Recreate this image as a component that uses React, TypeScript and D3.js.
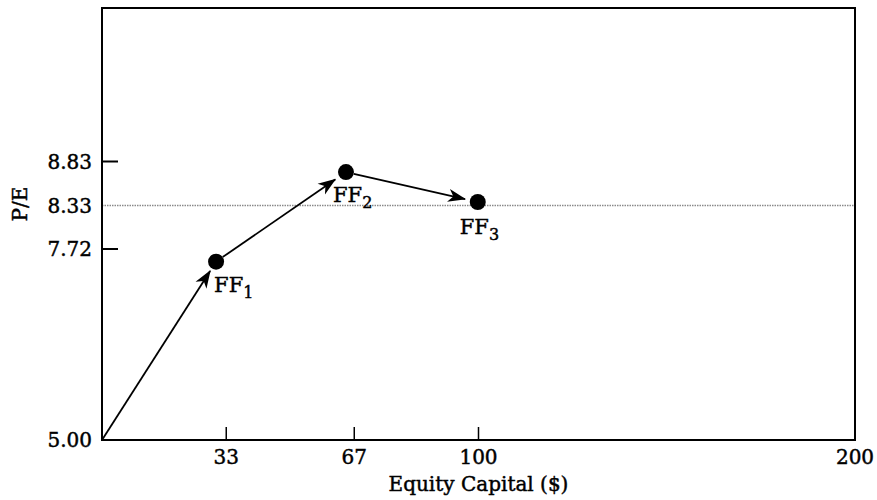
import React from "react";
import * as d3 from "d3";

const xTickValues = [33, 67, 100, 200];
const yTickValues = [5.0, 7.72, 8.33, 8.83];
const yTickLabels = ["5.00", "7.72", "8.33", "8.83"];
const yTickMarked = [false, true, false, true];
const pointNames = ["FF", "FF", "FF"];
const pointSubs = ["1", "2", "3"];
const pointEquity = [30.3, 64.8, 99.8];
const pointPE = [7.54, 8.71, 8.37];
const origin = { equity: 0, pe: 5.0 };
const referencePE = 8.33;

const W = 877;
const H = 500;
const left = 102;
const right = 855;
const top = 8;
const bottom = 440;
const FONT = "'DejaVu Serif', serif";
const textStroke = { stroke: "#000", strokeWidth: 0.45 };

export default function App() {
  const x = d3.scaleLinear().domain([0, 200]).range([left, right]);
  const y = d3
    .scaleLinear()
    .domain(yTickValues)
    .range([bottom, 249, 205.5, 161.5]);

  const pts = pointEquity.map((e, i) => ({ x: x(e), y: y(pointPE[i]) }));
  const starts = [{ x: x(origin.equity), y: y(origin.pe) }, ...pts.slice(0, -1)];
  const r = 8;

  const arrows = pts.map((end, i) => {
    const s = starts[i];
    const dx = end.x - s.x;
    const dy = end.y - s.y;
    const len = Math.hypot(dx, dy);
    const ux = dx / len;
    const uy = dy / len;
    const startOff = i === 0 ? 0 : r;
    const endOff = i === 0 ? 11 : 13;
    return {
      x1: s.x + ux * startOff,
      y1: s.y + uy * startOff,
      x2: end.x - ux * endOff,
      y2: end.y - uy * endOff,
    };
  });

  const labelOffsets = [
    { dx: -2, dy: 30 },
    { dx: -13, dy: 30 },
    { dx: -18, dy: 32 },
  ];

  return (
    <svg width={W} height={H} style={{ position: "absolute", left: 0, top: 0, background: "#fff" }}>
      <defs>
        <marker
          id="arrow"
          markerUnits="userSpaceOnUse"
          markerWidth={20}
          markerHeight={14}
          refX={17}
          refY={6.5}
          orient="auto"
          viewBox="0 0 20 13"
        >
          <path d="M18,6.5 L0,0 L5,6.5 L0,13 Z" fill="#000" />
        </marker>
      </defs>

      {/* reference dotted line */}
      <line
        x1={left}
        x2={right}
        y1={y(referencePE)}
        y2={y(referencePE)}
        stroke="#8a8a8a"
        strokeWidth={1.6}
        strokeDasharray="1.5,1"
      />

      {/* frame */}
      <rect x={left} y={top} width={right - left} height={bottom - top} fill="none" stroke="#000" strokeWidth={2} />

      {/* y ticks */}
      {yTickValues.map((v, i) => (
        <g key={"yt" + i}>
          {yTickMarked[i] && (
            <line x1={left} x2={left + 16} y1={y(v)} y2={y(v)} stroke="#000" strokeWidth={2} />
          )}
          <text
            x={left - 10}
            y={y(v)}
            textAnchor="end"
            dominantBaseline="central"
            fontFamily={FONT}
            fontSize={20}
            fill="#000"
            {...textStroke}
          >
            {yTickLabels[i]}
          </text>
        </g>
      ))}

      {/* x ticks */}
      {xTickValues.map((v, i) => (
        <g key={"xt" + i}>
          {v < 200 && (
            <line x1={x(v)} x2={x(v)} y1={bottom} y2={bottom - 13} stroke="#000" strokeWidth={1.5} />
          )}
          <text x={x(v)} y={bottom + 24} textAnchor="middle" fontFamily={FONT} fontSize={20} fill="#000" {...textStroke}>
            {v}
          </text>
        </g>
      ))}

      {/* axis titles */}
      <text x={x(100)} y={491} textAnchor="middle" fontFamily={FONT} fontSize={20} fill="#000" {...textStroke}>
        Equity Capital ($)
      </text>
      <text
        transform={`translate(27, 204) rotate(-90)`}
        textAnchor="middle"
        fontFamily={FONT}
        fontSize={20}
        fill="#000"
        {...textStroke}
      >
        P/E
      </text>

      {/* arrows */}
      {arrows.map((a, i) => (
        <line
          key={"ar" + i}
          x1={a.x1}
          y1={a.y1}
          x2={a.x2}
          y2={a.y2}
          stroke="#000"
          strokeWidth={1.8}
          markerEnd="url(#arrow)"
        />
      ))}

      {/* points */}
      {pts.map((p, i) => (
        <circle key={"pt" + i} cx={p.x} cy={p.y} r={r} fill="#000" />
      ))}

      {/* labels */}
      {pts.map((p, i) => (
        <text
          key={"lb" + i}
          x={p.x + labelOffsets[i].dx}
          y={p.y + labelOffsets[i].dy}
          fontFamily={FONT}
          fontSize={21}
          fill="#000"
          {...textStroke}
        >
          {pointNames[i]}
          <tspan fontSize={16} dy={6}>
            {pointSubs[i]}
          </tspan>
        </text>
      ))}
    </svg>
  );
}
